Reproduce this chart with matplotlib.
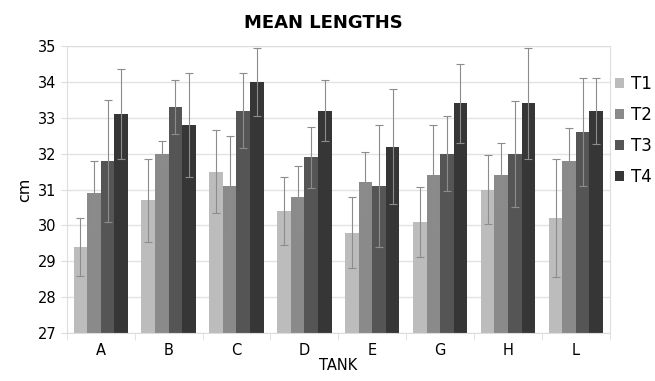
import numpy as np
import matplotlib.pyplot as plt

# Tanks and treatment means (cm) with error bar half-widths
tanks = ['A', 'B', 'C', 'D', 'E', 'G', 'H', 'L']
series = ['T1', 'T2', 'T3', 'T4']
t1 = [29.4, 30.7, 31.5, 30.4, 29.8, 30.1, 31.0, 30.2]
t2 = [30.9, 32.0, 31.1, 30.8, 31.2, 31.4, 31.4, 31.8]
t3 = [31.8, 33.3, 33.2, 31.9, 31.1, 32.0, 32.0, 32.6]
t4 = [33.1, 32.8, 34.0, 33.2, 32.2, 33.4, 33.4, 33.2]
e1 = [0.8, 1.15, 1.15, 0.95, 1.0, 0.98, 0.95, 1.65]
e2 = [0.9, 0.35, 1.4, 0.85, 0.85, 1.4, 0.9, 0.92]
e3 = [1.7, 0.75, 1.05, 0.85, 1.7, 1.05, 1.48, 1.5]
e4 = [1.25, 1.45, 0.95, 0.85, 1.6, 1.1, 1.56, 0.92]
colors = ['#bcbcbc', '#8a8a8a', '#555555', '#363636']

fig = plt.figure(figsize=(6.55, 3.81), dpi=100)
ax = fig.add_axes([0.102, 0.126, 0.829, 0.753])

x = np.arange(len(tanks))
w = 0.2
for i, (vals, errs) in enumerate(zip([t1, t2, t3, t4], [e1, e2, e3, e4])):
    ax.bar(x + (i - 1.5) * w, vals, w, bottom=0, color=colors[i], label=series[i],
           yerr=errs, ecolor='#8c8c8c', capsize=3,
           error_kw={'elinewidth': 0.8, 'capthick': 0.8}, zorder=2)

ax.set_ylim(27, 35)
ax.set_xlim(-0.5, len(tanks) - 0.5)
ax.set_yticks(range(27, 36))
ax.set_xticks(x)
ax.set_xticklabels(tanks)
ax.set_xticks(np.arange(-0.5, len(tanks)), minor=True)
ax.tick_params(axis='x', which='major', length=0, labelsize=10.5, pad=7)
ax.tick_params(axis='x', which='minor', length=5, color='#dddddd')
ax.tick_params(axis='y', length=4, color='#dddddd', labelsize=10.5)
ax.yaxis.grid(True, color='#e3e3e3', linewidth=1, zorder=0)
ax.set_axisbelow(True)
for s in ax.spines.values():
    s.set_color('#dddddd')

ax.set_ylabel('cm', fontsize=11.5)
ax.set_xlabel('TANK', fontsize=10.5, labelpad=0)
ax.set_title('MEAN LENGTHS', fontsize=13, fontweight='bold', pad=13, x=0.472)

ax.legend(loc='upper left', bbox_to_anchor=(1.009, 0.9), frameon=False,
          fontsize=12, handlelength=0.55, handleheight=0.55, handletextpad=0.45,
          labelspacing=0.78, borderaxespad=0, borderpad=0)

fig.savefig('out.png', dpi=100)
